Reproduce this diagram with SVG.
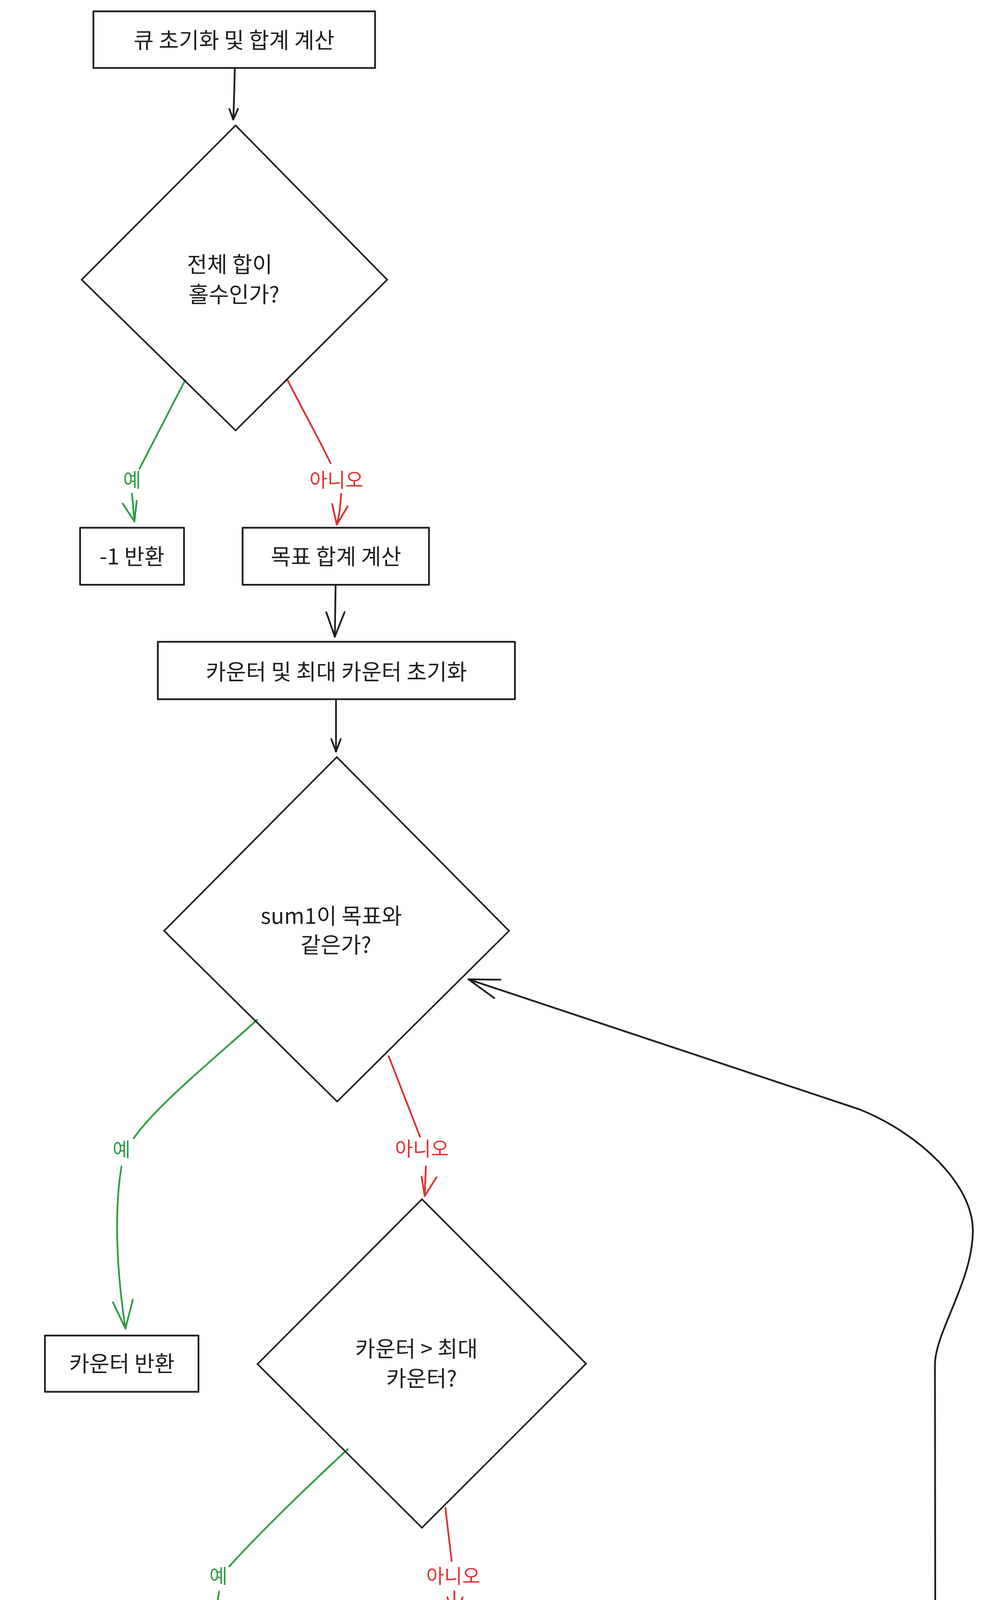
<svg xmlns="http://www.w3.org/2000/svg" width="2516" height="5509" viewBox="0 0 2516 5509">
<style>
  .bg{fill:#ffffff}
  .box{fill:none;stroke:#1e1e1e;stroke-width:4.5;stroke-linejoin:round}
  .dia{fill:none;stroke:#1e1e1e;stroke-width:4;stroke-linejoin:miter}
  .t{font-family:"Noto Sans CJK KR","Noto Sans",sans-serif;font-size:56px;fill:#1e1e1e;text-anchor:middle;dominant-baseline:central}
  .lbl{font-family:"Noto Sans CJK KR","Noto Sans",sans-serif;font-size:50px;text-anchor:middle;dominant-baseline:central}
  .k{fill:none;stroke:#1e1e1e;stroke-width:4.5;stroke-linecap:round;stroke-linejoin:round}
  .g{fill:none;stroke:#2f9e44;stroke-width:4.5;stroke-linecap:round;stroke-linejoin:round}
  .r{fill:none;stroke:#e03131;stroke-width:4.5;stroke-linecap:round;stroke-linejoin:round}
  .gt{fill:#2f9e44}
  .rt{fill:#e03131}
</style>
<rect class="bg" x="0" y="0" width="2516" height="5509"/>

<g id="connectors">
  <g id="c-init-d1">
    <path class="k" d="M601,174 C600,220 599,260 597,306"/>
    <path class="k" d="M587,279 L597,306 L609,279"/>
  </g>
  <g id="c-d1-yes">
    <path class="g" d="M474,973 L357,1200"/>
    <text class="lbl gt" x="338" y="1225">예</text>
    <path class="g" d="M338,1264 C340,1290 342,1310 344,1335"/>
    <path class="g" d="M314,1289 L344,1335 L350,1282"/>
  </g>
  <g id="c-d1-no">
    <path class="r" d="M736,973 C780,1060 820,1130 846,1186"/>
    <text class="lbl rt" x="861" y="1225">아니오</text>
    <path class="r" d="M873,1264 C872,1290 868,1320 862,1343"/>
    <path class="r" d="M850,1290 L862,1343 L890,1296"/>
  </g>
  <g id="c-goal-counter">
    <path class="k" d="M859,1497 L857,1630"/>
    <path class="k" d="M835,1567 L857,1630 L882,1567"/>
  </g>
  <g id="c-counter-d2">
    <path class="k" d="M860,1790 L860,1924"/>
    <path class="k" d="M848,1892 L860,1924 L872,1892"/>
  </g>
  <g id="c-d2-yes">
    <path class="g" d="M658,2611 C560,2700 400,2830 342,2914"/>
    <text class="lbl gt" x="311" y="2939">예</text>
    <path class="g" d="M311,2986 C292,3100 298,3250 321,3401"/>
    <path class="g" d="M289,3334 L321,3401 L340,3327"/>
  </g>
  <g id="c-d2-no">
    <path class="r" d="M995,2704 L1075,2910"/>
    <text class="lbl rt" x="1080" y="2937">아니오</text>
    <path class="r" d="M1090,2986 L1087,3062"/>
    <path class="r" d="M1079,3012 L1087,3062 L1117,3014"/>
  </g>
  <g id="c-d3-yes">
    <path class="g" d="M890,3710 C760,3830 640,3950 587,4010"/>
    <text class="lbl gt" x="559" y="4031">예</text>
    <path class="g" d="M561,4074 C545,4160 550,4280 569,4388"/>
    <path class="g" d="M538,4317 L569,4388 L590,4313"/>
  </g>
  <g id="c-d3-no">
    <path class="r" d="M1140,3860 L1156,3996"/>
    <text class="lbl rt" x="1160" y="4031">아니오</text>
    <path class="r" d="M1163,4074 L1163,4147"/>
    <path class="r" d="M1145,4089 L1163,4147 L1184,4089"/>
  </g>
  <g id="c-d4-yes">
    <path class="g" d="M1000,4618 L588,4916"/>
    <text class="lbl gt" x="557" y="4914">예</text>
    <path class="g" d="M556,4957 C540,4985 560,5005 582,5035"/>
    <path class="g" d="M537,5000 L582,5035 L568,4980"/>
  </g>
  <g id="c-d4-no">
    <path class="r" d="M1360,4616 L1737,4880"/>
    <text class="lbl rt" x="1763" y="4915">아니오</text>
    <path class="r" d="M1808,4957 C1815,4980 1800,5005 1778,5027"/>
    <path class="r" d="M1797,4970 L1778,5027 L1825,4995"/>
  </g>
  <g id="c-q1-update">
    <path class="k" d="M559,5183 C520,5240 520,5262 610,5278 C740,5300 900,5315 1009,5329"/>
    <path class="k" d="M941,5295 L1009,5329 L932,5348"/>
  </g>
  <g id="c-q2-update">
    <path class="k" d="M1764,5189 C1775,5230 1770,5262 1715,5292 C1690,5306 1660,5318 1632,5328"/>
    <path class="k" d="M1686,5274 L1632,5328 L1706,5323"/>
  </g>
  <g id="c-update-loop">
    <path class="k" d="M1930,5335 C2100,5305 2280,5290 2375,5262 C2425,5245 2438,5215 2432,5185 C2424,5150 2396,5140 2395,5100 L2393,3494 C2393,3410 2490,3280 2490,3150 C2490,3030 2350,2900 2200,2840 L1199,2507"/>
    <path class="k" d="M1281,2508 L1199,2507 L1265,2555"/>
  </g>
</g>

<g id="nodes">
  <g id="n-init">
    <rect class="box" x="239" y="29" width="721" height="145"/>
    <text class="t" x="599" y="98">큐 초기화 및 합계 계산</text>
  </g>
  <g id="n-odd">
    <polygon class="dia" points="603,321 991,716 603,1102 209,716"/>
    <text class="t" x="588" y="672">전체 합이</text>
    <text class="t" x="599" y="749">홀수인가?</text>
  </g>
  <g id="n-ret1">
    <rect class="box" x="205" y="1351" width="266" height="146"/>
    <text class="t" x="338" y="1420">-1 반환</text>
  </g>
  <g id="n-goal">
    <rect class="box" x="621" y="1351" width="477" height="146"/>
    <text class="t" x="860" y="1420">목표 합계 계산</text>
  </g>
  <g id="n-counter-init">
    <rect class="box" x="404" y="1643" width="914" height="147"/>
    <text class="t" x="861" y="1715">카운터 및 최대 카운터 초기화</text>
  </g>
  <g id="n-eq">
    <polygon class="dia" points="862,1938 1303,2383 863,2820 420,2383"/>
    <text class="t" x="848" y="2340">sum1이 목표와</text>
    <text class="t" x="860" y="2414">같은가?</text>
  </g>
  <g id="n-ret-counter">
    <rect class="box" x="115" y="3419" width="393" height="144"/>
    <text class="t" x="312" y="3486">카운터 반환</text>
  </g>
  <g id="n-max">
    <polygon class="dia" points="1080,3070 1500,3491 1080,3911 659,3492"/>
    <text class="t" x="1066" y="3448">카운터 &gt; 최대</text>
    <text class="t" x="1079" y="3524">카운터?</text>
  </g>
  <g id="n-ret2">
    <rect class="box" x="427" y="4404" width="267" height="145"/>
    <text class="t" x="561" y="4473">-1 반환</text>
  </g>
  <g id="n-cmp">
    <polygon class="dia" points="1161,4160 1477,4477 1161,4794 843,4477"/>
    <text class="t" x="1149" y="4437">sum1 &gt;</text>
    <text class="t" x="1161" y="4512">sum2?</text>
  </g>
  <g id="n-q1">
    <rect class="box" x="29" y="5040" width="1056" height="146"/>
    <text class="t" x="559" y="5111">queue1에서 빼서 queue2로 이동</text>
  </g>
  <g id="n-q2">
    <rect class="box" x="1236" y="5040" width="1056" height="146"/>
    <text class="t" x="1762" y="5111">queue2에서 빼서 queue1로 이동</text>
  </g>
  <g id="n-update">
    <rect class="box" x="1020" y="5335" width="914" height="143"/>
    <text class="t" x="1478" y="5406">합계 업데이트 및 카운터 증가</text>
  </g>
</g>
</svg>
